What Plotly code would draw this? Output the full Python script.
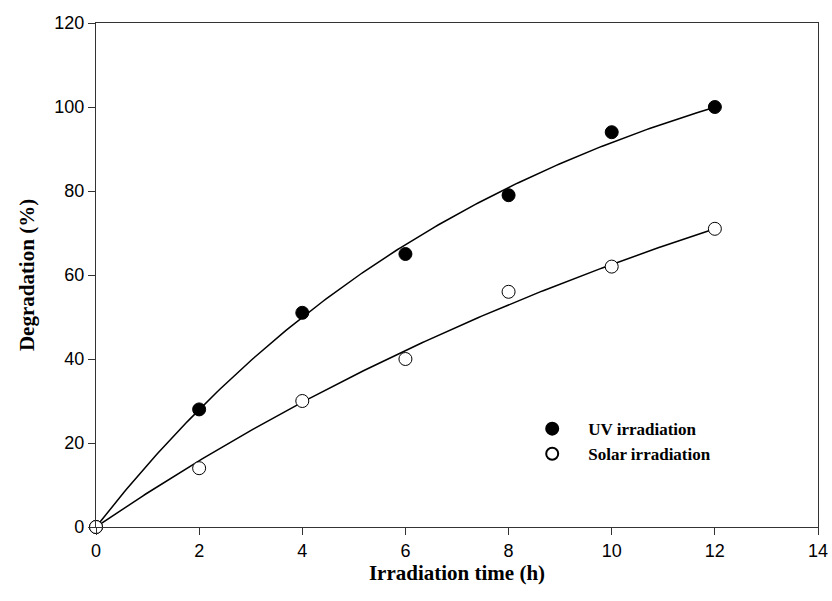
import numpy as np
import plotly.graph_objects as go

time_h = [0, 2, 4, 6, 8, 10, 12]
uv_deg = [0, 28, 51, 65, 79, 94, 100]
solar_deg = [0, 14, 30, 40, 56, 62, 71]

# fitted model y = a*(1-exp(-b*t))
uv_fit = (131.0, 0.12)
solar_fit = (135.3, 0.062)

t = np.linspace(0, 12, 200)
fig = go.Figure()
fig.add_trace(go.Scatter(x=t, y=uv_fit[0]*(1-np.exp(-uv_fit[1]*t)), mode="lines",
                         line=dict(color="black", width=1.5), showlegend=False, hoverinfo="skip"))
fig.add_trace(go.Scatter(x=t, y=solar_fit[0]*(1-np.exp(-solar_fit[1]*t)), mode="lines",
                         line=dict(color="black", width=1.5), showlegend=False, hoverinfo="skip"))
fig.add_trace(go.Scatter(x=time_h, y=uv_deg, mode="markers", name="<b>UV irradiation</b>",
                         marker=dict(symbol="circle", size=13, color="black",
                                     line=dict(color="black", width=1)), cliponaxis=False))
fig.add_trace(go.Scatter(x=time_h, y=solar_deg, mode="markers", name="<b>Solar irradiation</b>",
                         marker=dict(symbol="circle", size=13, color="white",
                                     line=dict(color="black", width=1)), cliponaxis=False))

axis_common = dict(showline=True, linecolor="#333", linewidth=1.2, mirror=True, automargin=False,
                   ticks="outside", ticklen=7, tickcolor="#333", showgrid=False, zeroline=False,
                   ticklabeloverflow="allow",
                   tickfont=dict(family="Liberation Sans, Arial", size=18, color="black"))
fig.update_xaxes(range=[0, 14], dtick=2, **axis_common,
                 title=dict(text="<b>Irradiation time (h)</b>",
                            font=dict(family="Liberation Serif, Times New Roman", size=21, color="black"),
                            standoff=0))
fig.update_yaxes(range=[0, 120], dtick=20, **axis_common,
                 title=dict(text="<b>Degradation (%)</b>",
                            font=dict(family="Liberation Serif, Times New Roman", size=21, color="black"),
                            standoff=13))
fig.update_layout(width=832, height=601, plot_bgcolor="white", paper_bgcolor="white",
                  margin=dict(l=96, r=14, t=23, b=74),
                  legend=dict(x=0.582, y=0.23, xanchor="left", yanchor="top", itemwidth=62,
                              bgcolor="rgba(0,0,0,0)", tracegroupgap=0, itemsizing="constant",
                              font=dict(family="Liberation Serif, Times New Roman", size=17, color="black")))
fig.write_html("out.html", config={"displayModeBar": False},
               post_script="document.body.style.margin='0px';")
